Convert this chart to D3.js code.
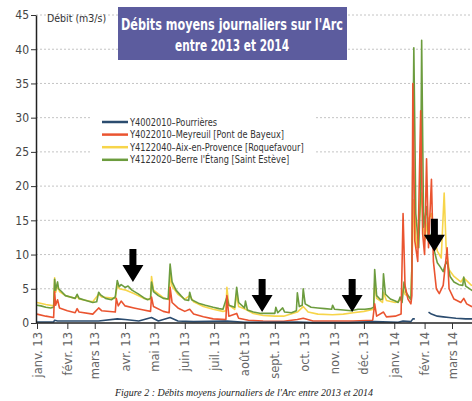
<!DOCTYPE html>
<html>
<head>
<meta charset="utf-8">
<script src="https://cdn.jsdelivr.net/npm/d3@7"></script>
<style>
  body { margin: 0; background: #fff; }
  svg { display: block; }
  .narrow { font-family: "Liberation Sans Narrow", "Arial Narrow", "DejaVu Sans Condensed", sans-serif; }
</style>
</head>
<body>
<div id="chart-area"></div>
<script>
// series: [date, débit m3/s]
const pourrieres = [
  ["2013-01-01",0.15],["2013-01-18",0.15],["2013-01-19",0.4],["2013-01-22",0.3],["2013-02-11",0.3],
  ["2013-03-05",0.3],["2013-03-24",0.6],["2013-04-01",0.5],["2013-04-15",0.3],["2013-04-28",0.8],
  ["2013-05-05",0.3],["2013-05-17",0.8],["2013-05-25",0.3],["2013-06-10",0.2],["2013-07-14",0.3],
  ["2013-08-01",0.1],["2013-09-24",0.15],["2013-10-10",0.05],["2013-11-15",0.05],["2013-12-12",0.2],
  ["2014-01-05",0.1],["2014-01-10",0.3],["2014-01-18",0.2],["2014-01-20",0.6],["2014-01-22",0.6],
  ["2014-01-23",null],["2014-02-04",null],["2014-02-05",1.6],["2014-02-08",1.3],["2014-02-14",1.0],
  ["2014-02-20",0.9],["2014-02-26",0.8],["2014-03-05",0.7],["2014-03-15",0.6],["2014-03-25",0.6]
];

const meyreuil = [
  ["2013-01-01",1.3],["2013-01-10",1.0],["2013-01-18",0.8],["2013-01-19",4.6],["2013-01-20",2.6],
  ["2013-01-22",3.4],["2013-01-24",2.2],["2013-02-01",1.8],["2013-02-09",1.5],["2013-02-11",2.1],
  ["2013-02-13",1.6],["2013-02-27",1.3],["2013-03-05",2.2],["2013-03-08",1.8],["2013-03-22",1.6],
  ["2013-03-23",3.6],["2013-03-25",2.5],["2013-03-28",3.2],["2013-04-01",2.5],["2013-04-10",2.2],
  ["2013-04-20",1.9],["2013-04-27",1.7],["2013-04-28",3.8],["2013-04-30",2.4],["2013-05-10",1.7],
  ["2013-05-16",1.5],["2013-05-17",5.2],["2013-05-19",3.0],["2013-05-25",2.2],["2013-06-01",1.7],
  ["2013-06-06",2.0],["2013-06-10",1.3],["2013-06-20",0.9],["2013-06-30",0.6],["2013-07-13",0.5],
  ["2013-07-14",4.0],["2013-07-16",1.0],["2013-07-24",1.4],["2013-07-26",0.7],["2013-08-05",0.4],
  ["2013-08-20",0.3],["2013-09-10",0.25],["2013-09-24",0.5],["2013-09-30",0.7],["2013-10-10",0.3],
  ["2013-11-01",0.3],["2013-11-20",0.3],["2013-12-10",0.4],["2013-12-12",2.8],["2013-12-14",1.0],
  ["2013-12-21",1.6],["2013-12-24",0.9],["2014-01-02",1.0],["2014-01-08",1.3],["2014-01-10",16],
  ["2014-01-12",5.5],["2014-01-15",3.5],["2014-01-18",2.8],["2014-01-19",4],["2014-01-20",35],
  ["2014-01-22",12],["2014-01-25",9],["2014-01-28",31],["2014-01-30",13],["2014-02-01",10],
  ["2014-02-03",24],["2014-02-05",11],["2014-02-08",21],["2014-02-10",9],["2014-02-13",5.0],
  ["2014-02-16",4.3],["2014-02-20",5.5],["2014-02-24",11],["2014-02-26",5.0],["2014-03-03",3.5],
  ["2014-03-10",3.0],["2014-03-13",3.6],["2014-03-16",2.8],["2014-03-21",2.4],["2014-03-25",2.3]
];

const aix = [
  ["2013-01-01",3.0],["2013-01-10",2.7],["2013-01-18",2.5],["2013-01-19",6.6],["2013-01-20",4.5],
  ["2013-01-22",5.5],["2013-01-24",4.6],["2013-01-30",4.0],["2013-02-09",3.6],["2013-02-11",3.9],
  ["2013-02-13",3.5],["2013-02-27",3.1],["2013-03-05",4.2],["2013-03-08",3.8],["2013-03-22",3.6],
  ["2013-03-24",5.6],["2013-03-26",5.0],["2013-04-02",4.8],["2013-04-10",4.3],["2013-04-20",3.6],
  ["2013-04-27",3.4],["2013-04-28",6.8],["2013-04-30",4.8],["2013-05-10",3.7],["2013-05-16",3.4],
  ["2013-05-17",7.3],["2013-05-19",5.4],["2013-05-25",4.2],["2013-06-01",3.5],["2013-06-06",4.0],
  ["2013-06-10",3.1],["2013-06-20",2.4],["2013-06-30",2.0],["2013-07-10",1.7],["2013-07-13",1.8],
  ["2013-07-14",5.2],["2013-07-16",2.6],["2013-07-22",2.0],["2013-07-24",4.2],["2013-07-26",2.4],
  ["2013-08-02",2.0],["2013-08-10",1.4],["2013-08-20",1.1],["2013-09-01",1.0],["2013-09-10",1.0],
  ["2013-09-24",1.6],["2013-09-30",2.4],["2013-10-05",1.6],["2013-10-15",1.3],["2013-10-30",1.2],
  ["2013-11-10",1.3],["2013-11-20",1.5],["2013-12-01",1.7],["2013-12-11",2.0],["2013-12-12",5.8],
  ["2013-12-14",3.6],["2013-12-20",3.0],["2013-12-21",4.5],["2013-12-24",3.3],["2014-01-02",3.0],
  ["2014-01-08",3.4],["2014-01-10",5.0],["2014-01-12",4.2],["2014-01-18",3.6],["2014-01-21",18],
  ["2014-01-24",11],["2014-01-29",19],["2014-02-01",12],["2014-02-04",15],["2014-02-08",16],
  ["2014-02-11",12.5],["2014-02-14",10.5],["2014-02-18",9.5],["2014-02-21",19],["2014-02-23",11],
  ["2014-02-26",7.8],["2014-03-03",6.8],["2014-03-10",6.0],["2014-03-13",6.6],["2014-03-21",5.5],
  ["2014-03-25",5.3]
];

const berre = [
  ["2013-01-01",2.6],["2013-01-05",2.5],["2013-01-10",2.3],["2013-01-15",2.2],["2013-01-18",2.3],
  ["2013-01-19",6.4],["2013-01-20",4.8],["2013-01-22",6.0],["2013-01-23",5.0],["2013-01-26",4.6],
  ["2013-01-30",4.0],["2013-02-04",3.8],["2013-02-09",3.6],["2013-02-11",4.2],["2013-02-13",3.6],
  ["2013-02-20",3.3],["2013-02-27",3.0],["2013-03-03",3.1],["2013-03-05",4.5],["2013-03-07",4.1],
  ["2013-03-12",3.6],["2013-03-18",3.4],["2013-03-22",3.8],["2013-03-24",6.2],["2013-03-26",5.3],
  ["2013-03-28",5.6],["2013-04-01",5.2],["2013-04-04",5.4],["2013-04-08",4.8],["2013-04-14",4.3],
  ["2013-04-20",3.7],["2013-04-24",3.4],["2013-04-27",3.6],["2013-04-28",6.0],["2013-04-30",4.6],
  ["2013-05-05",4.0],["2013-05-10",3.6],["2013-05-15",3.5],["2013-05-17",8.6],["2013-05-19",6.0],
  ["2013-05-23",4.8],["2013-05-28",4.0],["2013-06-01",3.4],["2013-06-05",3.3],["2013-06-06",4.5],
  ["2013-06-08",3.4],["2013-06-15",2.9],["2013-06-22",2.6],["2013-06-30",2.3],["2013-07-06",2.1],
  ["2013-07-10",2.0],["2013-07-14",3.8],["2013-07-16",2.6],["2013-07-22",2.3],["2013-07-24",5.2],
  ["2013-07-26",3.0],["2013-08-01",2.2],["2013-08-02",3.2],["2013-08-04",1.9],["2013-08-10",1.6],
  ["2013-08-18",1.4],["2013-08-25",1.4],["2013-09-01",1.4],["2013-09-02",2.3],["2013-09-04",1.5],
  ["2013-09-09",2.2],["2013-09-11",1.6],["2013-09-18",1.5],["2013-09-23",1.8],["2013-09-24",4.4],
  ["2013-09-26",2.4],["2013-09-29",2.6],["2013-09-30",5.0],["2013-10-02",2.8],["2013-10-08",2.3],
  ["2013-10-15",2.2],["2013-10-22",2.1],["2013-10-29",2.0],["2013-10-30",2.6],["2013-11-01",2.0],
  ["2013-11-10",1.9],["2013-11-18",1.8],["2013-11-25",2.0],["2013-12-02",2.0],["2013-12-08",2.1],
  ["2013-12-11",2.3],["2013-12-12",7.8],["2013-12-14",4.0],["2013-12-18",3.4],["2013-12-20",3.5],
  ["2013-12-21",7.2],["2013-12-23",4.2],["2013-12-28",3.5],["2014-01-02",3.2],["2014-01-05",3.0],
  ["2014-01-07",3.8],["2014-01-09",3.0],["2014-01-11",6.0],["2014-01-13",4.5],["2014-01-18",3.4],
  ["2014-01-19",8],["2014-01-21",40.2],["2014-01-23",16],["2014-01-26",11],["2014-01-28",20],
  ["2014-01-29",41.3],["2014-01-31",14],["2014-02-03",17],["2014-02-05",12],["2014-02-08",13],
  ["2014-02-11",10.5],["2014-02-14",8.8],["2014-02-17",8.2],["2014-02-20",7.5],["2014-02-22",8.5],
  ["2014-02-24",9.0],["2014-02-27",6.8],["2014-03-03",6.0],["2014-03-08",5.6],["2014-03-12",5.5],
  ["2014-03-13",6.7],["2014-03-15",5.4],["2014-03-21",4.8],["2014-03-25",4.6]
];

const seriesNames = ["Y4002010–Pourrières", "Y4022010–Meyreuil [Pont de Bayeux]",
                     "Y4122040–Aix-en-Provence [Roquefavour]", "Y4122020–Berre l'Étang [Saint Estève]"];
const seriesColors = ["#2b4c6f", "#ea5430", "#f7d54a", "#6c9c3e"];
const seriesData = [pourrieres, meyreuil, aix, berre];

const yTicks = [0, 5, 10, 15, 20, 25, 30, 35, 40, 45];
const monthLabels = ["janv. 13","févr. 13","mars 13","avr. 13","mai 13","juin 13","juil. 13","août 13",
                     "sept. 13","oct. 13","nov. 13","déc. 13","janv. 14","févr. 14","mars 14"];

// arrows added on the figure: [date, value at the tip]
const arrows = [["2013-04-09", 6.0], ["2013-08-19", 1.6], ["2013-11-19", 1.6], ["2014-02-11", 10.4]];

const parseDate = d3.timeParse("%Y-%m-%d");

let width = 472, height = 401;

let svg = d3.select("#chart-area")
  .append("svg")
  .attr("width", width)
  .attr("height", height);

// squeeze a text to a share of its natural width (no narrow font installed)
function squeeze(sel, k) {
  sel.each(function() {
    let w = this.getComputedTextLength();
    d3.select(this).attr("textLength", w * k).attr("lengthAdjust", "spacingAndGlyphs");
  });
}

// scales
let x = d3.scaleTime()
  .domain([parseDate("2013-01-01"), parseDate("2014-03-01")])
  .range([37, 452]);

let y = d3.scaleLinear()
  .domain([0, 45])
  .range([323, 15]);

// grid
svg.append("g")
  .selectAll("line")
  .data(yTicks.slice(1))
  .enter()
  .append("line")
  .attr("x1", 36).attr("x2", width)
  .attr("y1", d => y(d)).attr("y2", d => y(d))
  .attr("stroke", "#c4c4c4")
  .attr("stroke-dasharray", "2,2");

// lines, drawn so the low series stay on top
let line = d3.line()
  .defined(d => d[1] != null)
  .x(d => x(parseDate(d[0])))
  .y(d => y(d[1]));

[2, 3, 1, 0].forEach(i => {
  svg.append("path")
    .datum(seriesData[i])
    .attr("fill", "none")
    .attr("stroke", seriesColors[i])
    .attr("stroke-width", 1.6)
    .attr("stroke-linejoin", "round")
    .attr("d", line);
});

// axes
let tickDates = d3.timeMonth.range(parseDate("2013-01-01"), parseDate("2014-03-02"));

let xAxis = svg.append("g")
  .attr("transform", "translate(0," + y(0) + ")")
  .call(d3.axisBottom(x).tickValues(tickDates).tickFormat((d, i) => monthLabels[i]).tickSize(6).tickSizeOuter(0));
xAxis.select(".domain").attr("stroke", "#222").attr("stroke-width", 1.5).attr("d", "M36,0H" + width);
xAxis.selectAll(".tick line").attr("stroke", "#333");
xAxis.selectAll("text")
  .attr("font-family", "'DejaVu Sans', sans-serif")
  .attr("font-size", "11.5px")
  .attr("fill", "#666")
  .attr("transform", "rotate(-90)")
  .attr("text-anchor", "end")
  .attr("x", -9)
  .attr("y", 0)
  .attr("dy", "0.35em");

let yAxis = svg.append("g")
  .attr("transform", "translate(36,0)")
  .call(d3.axisLeft(y).tickValues(yTicks).tickSize(5).tickSizeOuter(0));
yAxis.select(".domain").attr("stroke", "#222").attr("stroke-width", 1.5);
yAxis.selectAll(".tick line").attr("stroke", "#333");
yAxis.selectAll("text")
  .attr("class", "narrow")
  .attr("font-size", "12px")
  .attr("fill", "#444")
  .attr("x", -7);

// unit
svg.append("text")
  .attr("class", "narrow")
  .attr("x", 47).attr("y", 22)
  .attr("font-size", "10.5px")
  .attr("fill", "#333")
  .text("Débit (m3/s)");

// title box
svg.append("rect")
  .attr("x", 118).attr("y", 7)
  .attr("width", 229).attr("height", 53)
  .attr("fill", "#5c5c9e");
svg.append("text")
  .attr("class", "narrow")
  .attr("x", 232).attr("y", 30)
  .attr("text-anchor", "middle")
  .attr("font-size", "15px").attr("font-weight", "bold")
  .attr("fill", "#fff")
  .attr("textLength", 222).attr("lengthAdjust", "spacingAndGlyphs")
  .text("Débits moyens journaliers sur l'Arc");
svg.append("text")
  .attr("class", "narrow")
  .attr("x", 232).attr("y", 51)
  .attr("text-anchor", "middle")
  .attr("font-size", "15px").attr("font-weight", "bold")
  .attr("fill", "#fff")
  .attr("textLength", 114).attr("lengthAdjust", "spacingAndGlyphs")
  .text("entre 2013 et 2014");

// legend
let legend = svg.append("g");
legend.append("rect")
  .attr("x", 90).attr("y", 110)
  .attr("width", 225).attr("height", 60)
  .attr("fill", "#fff");
let rows = legend.selectAll("g.row")
  .data(seriesNames)
  .enter()
  .append("g")
  .attr("transform", (d, i) => "translate(0," + (122 + i * 12.6) + ")");
rows.append("line")
  .attr("x1", 102).attr("x2", 128)
  .attr("stroke", (d, i) => seriesColors[i])
  .attr("stroke-width", 2.5);
rows.append("text")
  .attr("class", "narrow")
  .attr("x", 130).attr("y", 0)
  .attr("dy", "0.35em")
  .attr("font-size", "10.5px")
  .attr("fill", "#333")
  .text(d => d)
  .call(squeeze, 0.87);

// arrows
let arrowPath = "M-3.5,-33H3.5V-17H10.5L0,0L-10.5,-17H-3.5Z";
svg.append("g")
  .selectAll("path")
  .data(arrows)
  .enter()
  .append("path")
  .attr("transform", d => "translate(" + x(parseDate(d[0])) + "," + y(d[1]) + ")")
  .attr("d", arrowPath)
  .attr("fill", "#000");

// caption
svg.append("text")
  .attr("x", 244).attr("y", 396)
  .attr("text-anchor", "middle")
  .attr("font-family", "'Liberation Serif', 'DejaVu Serif', serif")
  .attr("font-style", "italic")
  .attr("font-size", "11px")
  .attr("fill", "#222")
  .attr("textLength", 258).attr("lengthAdjust", "spacingAndGlyphs")
  .text("Figure 2 : Débits moyens journaliers de l'Arc entre 2013 et 2014");
</script>
</body>
</html>
